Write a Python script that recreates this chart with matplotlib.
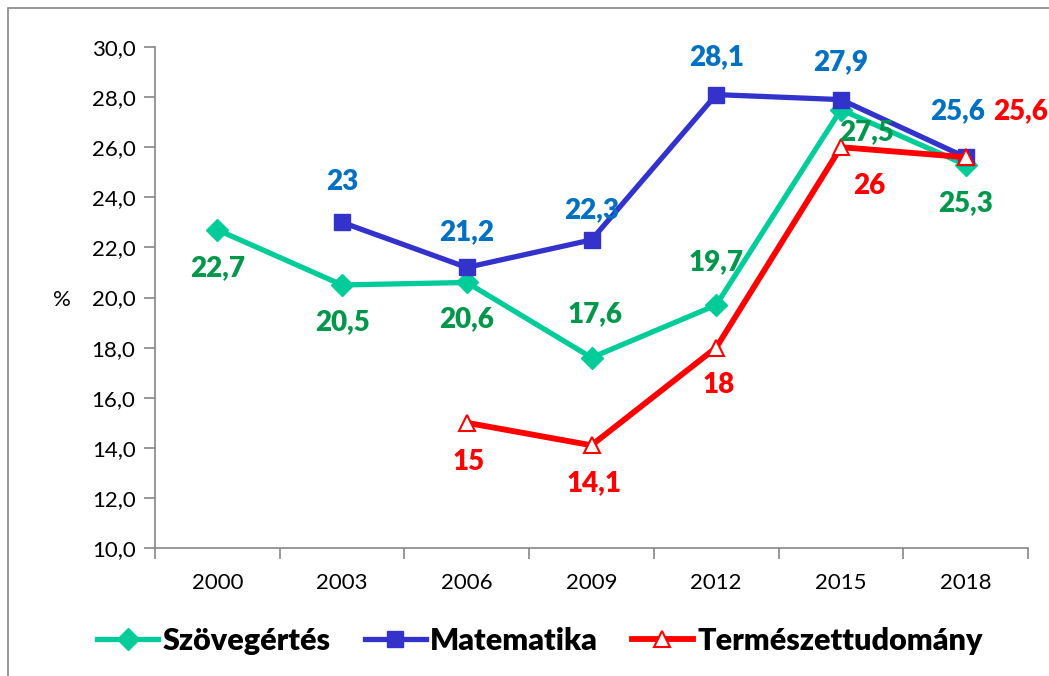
import numpy as np
import matplotlib.pyplot as plt
from matplotlib.patches import Rectangle

years = ['2000', '2003', '2006', '2009', '2012', '2015', '2018']
szoveg = [22.7, 20.5, 20.6, 17.6, 19.7, 27.5, 25.3]
matek = [np.nan, 23.0, 21.2, 22.3, 28.1, 27.9, 25.6]
termtud = [np.nan, np.nan, 15.0, 14.1, 18.0, 26.0, 25.6]

# label offsets in pixels (dx, dy)
szoveg_off = [(0, -38), (0, -37), (0, -37), (4, 43), (0, 43), (26, -22), (0, -38)]
matek_off = [None, (0, 40), (0, 35), (0, 30), (0, 37), (0, 37), (-8, 46)]
termtud_off = [None, None, (2, -39), (3, -38), (2, -37), (28, -39), (55, 46)]

plt.rcParams['font.family'] = ['Lato', 'DejaVu Sans']

fig = plt.figure(figsize=(10.49, 6.76), dpi=100)
ax = fig.add_axes([155 / 1049, 1 - 548 / 676, (1028 - 155) / 1049, (548 - 47) / 676])

x = np.arange(len(years))
ax.plot(x, szoveg, color='#00CC99', lw=3.8, marker='D', ms=11, mfc='#00CC99', mec='#00CC99',
        label='Szövegértés', zorder=3)
ax.plot(x, matek, color='#3333CC', lw=3.8, marker='s', ms=12, mfc='#3333CC', mec='#3333CC',
        label='Matematika', zorder=4)
ax.plot(x, termtud, color='#FF0000', lw=4.2, marker='^', ms=12, mfc='white', mec='#FF0000', mew=1.5,
        label='Természettudomány', zorder=5)


def label_series(vals, offs, color):
    for xi, v, off in zip(x, vals, offs):
        if off is None or np.isnan(v):
            continue
        txt = ('%.1f' % v).replace('.', ',')
        if txt.endswith(',0'):
            txt = txt[:-2]
        ax.annotate(txt, (xi, v), xytext=off, textcoords='offset pixels', ha='center', va='center',
                    fontsize=20, fontweight='heavy', color=color, annotation_clip=False, zorder=6)


label_series(szoveg, szoveg_off, '#00964B')
label_series(matek, matek_off, '#0070C0')
label_series(termtud, termtud_off, '#FF0000')

ax.set_xlim(-0.5, len(years) - 0.5)
ax.set_ylim(10, 30)
ax.set_yticks(np.arange(10, 30.1, 2))
ax.set_yticklabels([('%.1f' % t).replace('.', ',') for t in np.arange(10, 30.1, 2)])
ax.set_xticks(np.arange(-0.5, len(years), 1))
ax.set_xticklabels([])
ax.set_xticks(x, minor=True)
ax.set_xticklabels(years, minor=True)
ax.tick_params(axis='x', which='minor', length=0, pad=18, labelsize=16)
ax.tick_params(axis='x', which='major', length=8, width=1.2, color='#868686', direction='out')
ax.tick_params(axis='y', length=8, width=1.2, color='#868686', labelsize=16, pad=6)

for s in ['top', 'right']:
    ax.spines[s].set_visible(False)
for s in ['left', 'bottom']:
    ax.spines[s].set_color('#868686')
    ax.spines[s].set_linewidth(1.2)

fig.text(62 / 1049, 1 - 300 / 676, '%', fontsize=16, ha='center', va='center')

fig.legend(loc='center', bbox_to_anchor=(540 / 1049, 1 - 641 / 676), ncol=3, frameon=False,
           prop={'size': 22, 'weight': 'heavy'}, handlelength=2.0, handletextpad=0.15, columnspacing=1.1)

fig.patches.append(Rectangle((8 / 1049, -0.1), 1.2, 1.1 - 8 / 676, transform=fig.transFigure,
                             fill=False, edgecolor='#868686', lw=1.2))

fig.savefig('out.png', dpi=100)
